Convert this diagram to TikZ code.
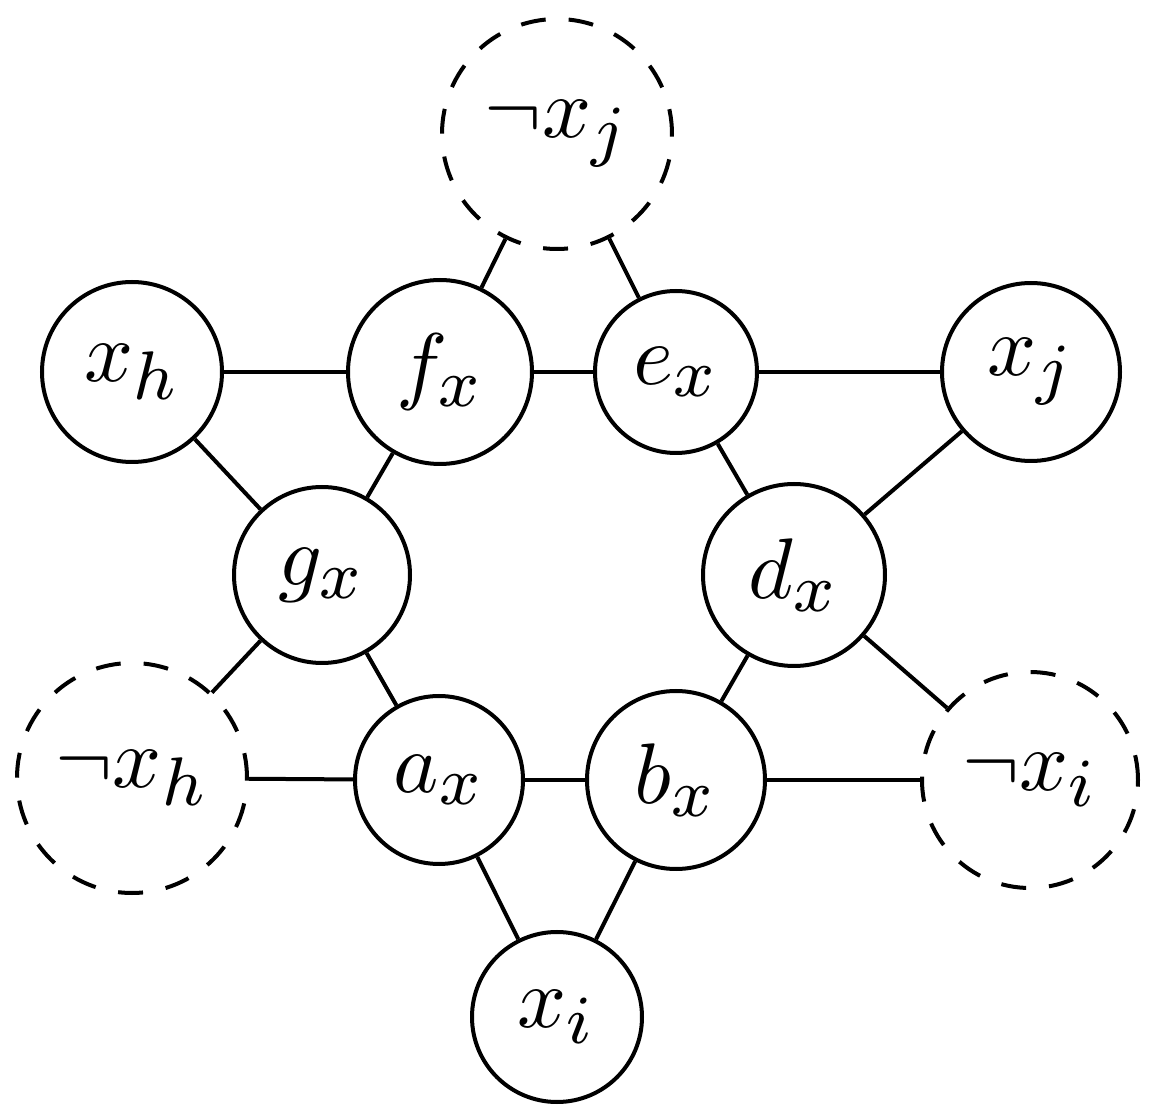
\documentclass[tikz,border=0pt]{standalone}
\DeclareMathSizes{10}{10}{8}{6}
\newcommand{\vlab}[1]{\scalebox{4.3}{$#1$}}
\begin{document}
\begin{tikzpicture}[x=0.5pt,y=-0.5pt,
  vert/.style={circle,draw,line width=2pt,inner sep=0pt},
  negvert/.style={vert,dash pattern=on 12.5pt off 11.5pt},
  edge/.style={line width=2pt}]
\useasboundingbox (0,0) rectangle (1153,1117);
\node[negvert,minimum size=115pt] (nxj) at (557,134) {\vlab{\neg x_j}};
\node[vert,minimum size=90pt] (xh) at (132,372) {\vlab{x_h}};
\node[vert,minimum size=92pt] (fx) at (440,372) {\vlab{f_x}};
\node[vert,minimum size=81pt] (ex) at (676,372) {\vlab{e_x}};
\node[vert,minimum size=89pt] (xj) at (1031,372) {\vlab{x_j}};
\node[vert,minimum size=88pt] (gx) at (322,575) {\vlab{g_x}};
\node[vert,minimum size=91pt] (dx) at (794,575) {\vlab{d_x}};
\node[negvert,minimum size=115pt] (nxh) at (132,778) {\vlab{\neg x_h}};
\node[vert,minimum size=84pt] (ax) at (439,780) {\vlab{a_x}};
\node[vert,minimum size=89pt] (bx) at (676,780) {\vlab{b_x}};
\node[negvert,minimum size=108pt] (nxi) at (1030,780) {\vlab{\neg x_i}};
\node[vert,minimum size=85pt] (xi) at (557,1017) {\vlab{x_i}};
\draw[edge] (nxj) -- (fx);
\draw[edge] (nxj) -- (ex);
\draw[edge] (xh) -- (fx);
\draw[edge] (fx) -- (ex);
\draw[edge] (ex) -- (xj);
\draw[edge] (xh) -- (gx);
\draw[edge] (fx) -- (gx);
\draw[edge] (ex) -- (dx);
\draw[edge] (xj) -- (dx);
\draw[edge] (gx) -- (nxh);
\draw[edge] (gx) -- (ax);
\draw[edge] (dx) -- (bx);
\draw[edge] (dx) -- (nxi);
\draw[edge] (nxh) -- (ax);
\draw[edge] (ax) -- (bx);
\draw[edge] (bx) -- (nxi);
\draw[edge] (ax) -- (xi);
\draw[edge] (bx) -- (xi);
\end{tikzpicture}
\end{document}
